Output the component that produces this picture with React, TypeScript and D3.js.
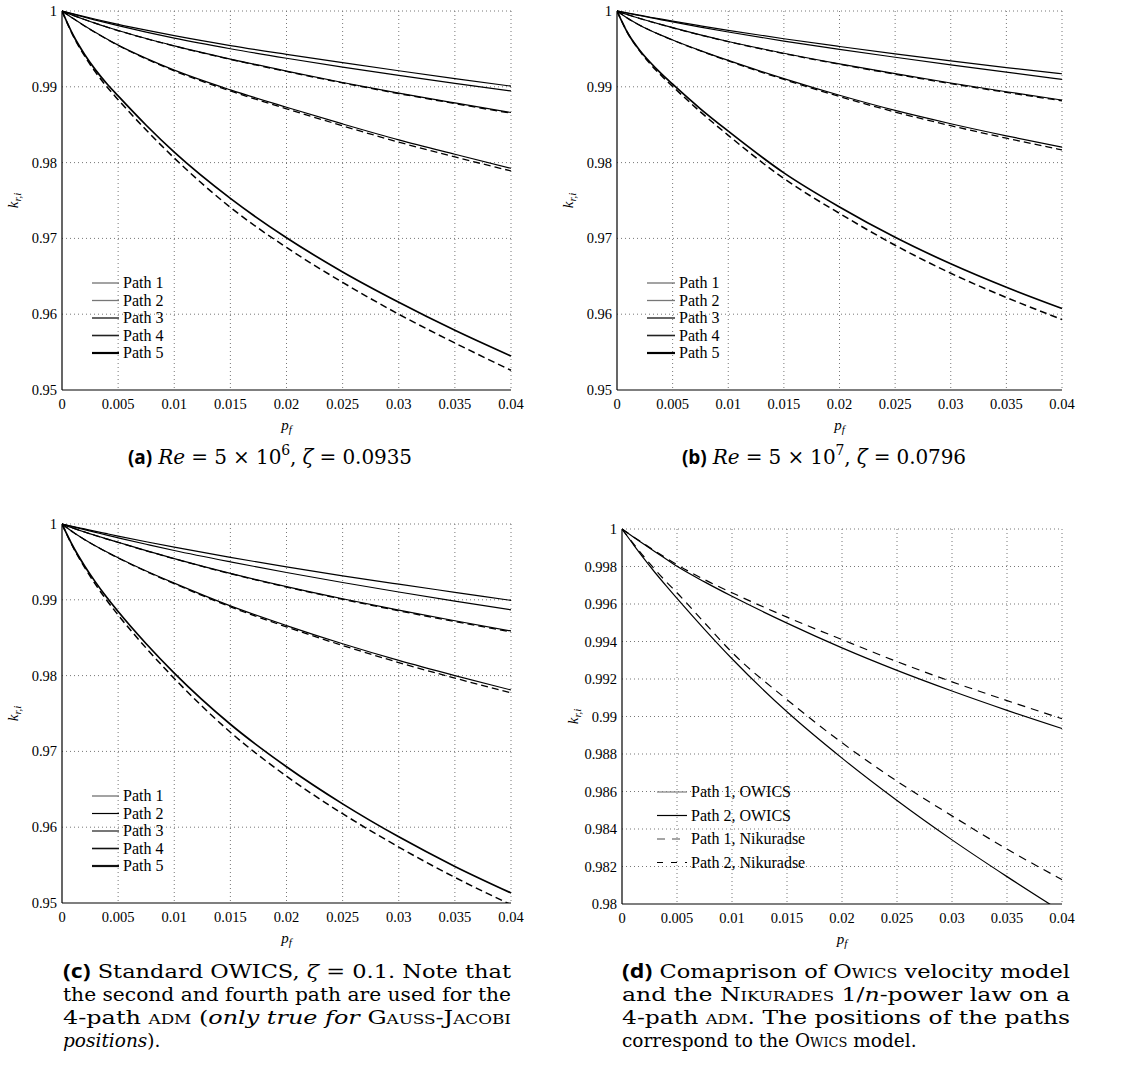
import React from 'react';
import * as d3 from 'd3';

// p_f sample positions
const pf = [0, 0.001, 0.002, 0.003, 0.004, 0.005, 0.0075, 0.01, 0.015, 0.02, 0.025, 0.03, 0.035, 0.04];

// (a) Re = 5e6, zeta = 0.0935
const aPath1 = [1, 0.99962, 0.99926, 0.99891, 0.99857, 0.99824, 0.99747, 0.99674, 0.99544, 0.99429, 0.99319, 0.99212, 0.99109, 0.99009];
const aPath2 = [1, 0.99958, 0.99918, 0.9988, 0.99843, 0.99807, 0.99722, 0.99642, 0.99502, 0.99377, 0.9926, 0.9915, 0.99045, 0.98945];
const aPath3 = [1, 0.99942, 0.99888, 0.99837, 0.99789, 0.99743, 0.99637, 0.9954, 0.99366, 0.99207, 0.99057, 0.98917, 0.98787, 0.98661];
const aPath3Dash = [1, 0.99942, 0.99888, 0.99837, 0.99788, 0.99742, 0.99635, 0.99537, 0.99362, 0.99202, 0.99051, 0.9891, 0.98779, 0.98651];
const aPath4 = [1, 0.999, 0.99805, 0.99715, 0.9963, 0.9955, 0.99375, 0.9922, 0.9896, 0.9873, 0.9851, 0.983, 0.9811, 0.97925];
const aPath4Dash = [1, 0.999, 0.99803, 0.99712, 0.99626, 0.99545, 0.99368, 0.9921, 0.98945, 0.9871, 0.98485, 0.9827, 0.98075, 0.9789];
const aPath5 = [1, 0.9968, 0.9943, 0.9922, 0.9904, 0.9888, 0.98493, 0.98138, 0.97528, 0.97008, 0.96558, 0.96158, 0.95788, 0.95448];
const aPath5Dash = [1, 0.9967, 0.9941, 0.9919, 0.99, 0.9883, 0.9843, 0.9806, 0.9741, 0.9688, 0.9642, 0.96, 0.9562, 0.9526];

// (b) Re = 5e7, zeta = 0.0796
const bPath1 = [1, 0.99972, 0.99945, 0.99918, 0.99892, 0.99866, 0.99804, 0.99744, 0.99634, 0.99532, 0.99434, 0.99342, 0.99254, 0.99172];
const bPath2 = [1, 0.9997, 0.99941, 0.99912, 0.99884, 0.99856, 0.99788, 0.99723, 0.99603, 0.99493, 0.9939, 0.9929, 0.99193, 0.99098];
const bPath3 = [1, 0.9995, 0.99904, 0.99861, 0.9982, 0.9978, 0.99685, 0.99598, 0.99443, 0.99303, 0.99173, 0.9905, 0.98935, 0.98825];
const bPath3Dash = [1, 0.9995, 0.99904, 0.99861, 0.99819, 0.99779, 0.99683, 0.99595, 0.99438, 0.99297, 0.99166, 0.99042, 0.98926, 0.98815];
const bPath4 = [1, 0.999, 0.99815, 0.99743, 0.99678, 0.99618, 0.99478, 0.99348, 0.99108, 0.98888, 0.98688, 0.98513, 0.98353, 0.98203];
const bPath4Dash = [1, 0.999, 0.99815, 0.99743, 0.99677, 0.99616, 0.99474, 0.99342, 0.99097, 0.98872, 0.98667, 0.98487, 0.98322, 0.98167];
const bPath5 = [1, 0.997, 0.9949, 0.9932, 0.9917, 0.99035, 0.9871, 0.98415, 0.97865, 0.97415, 0.97015, 0.96665, 0.96355, 0.96075];
const bPath5Dash = [1, 0.997, 0.9948, 0.993, 0.99145, 0.99005, 0.9867, 0.9836, 0.9779, 0.9733, 0.9691, 0.9654, 0.9622, 0.9593];

// (c) standard OWICS, zeta = 0.1
const cPath1 = [1, 0.99967, 0.99935, 0.99903, 0.99872, 0.99841, 0.99766, 0.99694, 0.99559, 0.99434, 0.99316, 0.99206, 0.99099, 0.98992];
const cPath2 = [1, 0.99962, 0.99925, 0.99889, 0.99853, 0.99818, 0.99733, 0.9965, 0.995, 0.9936, 0.99228, 0.99103, 0.98983, 0.98868];
const cPath3 = [1, 0.99945, 0.99895, 0.99848, 0.99803, 0.99759, 0.99649, 0.99544, 0.99349, 0.99174, 0.99014, 0.98864, 0.98724, 0.98589];
const cPath3Dash = [1, 0.99945, 0.99895, 0.99848, 0.99802, 0.99758, 0.99647, 0.99541, 0.99345, 0.99168, 0.99007, 0.98855, 0.98713, 0.98576];
const cPath4 = [1, 0.9989, 0.99795, 0.9971, 0.9963, 0.99555, 0.9938, 0.9922, 0.9892, 0.9866, 0.9842, 0.982, 0.98, 0.9781];
const cPath4Dash = [1, 0.9989, 0.99794, 0.99708, 0.99627, 0.99551, 0.99374, 0.99212, 0.98907, 0.98642, 0.98397, 0.98172, 0.97967, 0.97772];
const cPath5 = [1, 0.997, 0.9945, 0.9923, 0.9903, 0.98845, 0.9842, 0.98033, 0.97358, 0.96798, 0.96308, 0.95873, 0.95483, 0.95133];
const cPath5Dash = [1, 0.9969, 0.9943, 0.992, 0.9899, 0.988, 0.98363, 0.97963, 0.97253, 0.96673, 0.96178, 0.95738, 0.95338, 0.94978];

// (d) OWICS vs Nikuradse, 4-path
const dPath1Owics = [1, 0.99959, 0.99919, 0.99879, 0.9984, 0.99801, 0.99718, 0.99641, 0.99498, 0.99366, 0.99246, 0.99136, 0.99033, 0.98936];
const dPath2Owics = [1, 0.9992, 0.99842, 0.99768, 0.99698, 0.9963, 0.99465, 0.99308, 0.99025, 0.98778, 0.98552, 0.98342, 0.98146, 0.97958];
const dPath1Nik = [1, 0.9996, 0.99921, 0.99883, 0.99846, 0.9981, 0.9973, 0.9966, 0.9953, 0.9941, 0.99293, 0.99185, 0.99085, 0.98988];
const dPath2Nik = [1, 0.99925, 0.99852, 0.99784, 0.9972, 0.9966, 0.995, 0.99342, 0.9909, 0.9886, 0.98655, 0.9847, 0.98293, 0.9813];

const xTicks = [0, 0.005, 0.01, 0.015, 0.02, 0.025, 0.03, 0.035, 0.04];
const xTickLabels = ['0', '0.005', '0.01', '0.015', '0.02', '0.025', '0.03', '0.035', '0.04'];
const yTicksABC = [0.95, 0.96, 0.97, 0.98, 0.99, 1];
const yTickLabelsABC = ['0.95', '0.96', '0.97', '0.98', '0.99', '1'];
const yTicksD = [0.98, 0.982, 0.984, 0.986, 0.988, 0.99, 0.992, 0.994, 0.996, 0.998, 1];
const yTickLabelsD = ['0.98', '0.982', '0.984', '0.986', '0.988', '0.99', '0.992', '0.994', '0.996', '0.998', '1'];
const pathNames = ['Path 1', 'Path 2', 'Path 3', 'Path 4', 'Path 5'];
const compareNames = ['Path 1, OWICS', 'Path 2, OWICS', 'Path 1, Nikuradse', 'Path 2, Nikuradse'];

const SERIF = '"Liberation Serif", serif';
const CAPTION = '"DejaVu Serif", serif';
const SANS = '"Open Sans", "DejaVu Sans", sans-serif';

type Series = { values: number[]; dash?: string; width?: number; color?: string };
type LegendItem = { label: string; color: string; width: number; dash?: string };

const solid = (values: number[], width = 1.2): Series => ({ values, width });
const dashed = (values: number[], width = 1.3): Series => ({ values, width, dash: '7,4' });

function Panel(props: {
  id: string;
  box: { left: number; right: number; top: number; bottom: number };
  yDomain: [number, number];
  yTicks: number[];
  yLabels: string[];
  series: Series[];
  legend: LegendItem[];
  legendPos: { x: number; y: number; step: number; len: number };
}) {
  const { id, box, yDomain, yTicks, yLabels, series, legend, legendPos } = props;
  const x = d3.scaleLinear().domain([0, 0.04]).range([box.left, box.right]);
  const y = d3.scaleLinear().domain(yDomain).range([box.bottom, box.top]);
  const line = d3
    .line<number>()
    .x((_, i) => x(pf[i]))
    .y((d) => y(d))
    .curve(d3.curveMonotoneX);
  const midX = (box.left + box.right) / 2;
  const midY = (box.top + box.bottom) / 2;

  return (
    <g>
      <defs>
        <clipPath id={`clip-${id}`}>
          <rect x={box.left} y={box.top - 2} width={box.right - box.left + 2} height={box.bottom - box.top + 2} />
        </clipPath>
      </defs>
      {/* dotted grid */}
      {xTicks.slice(1).map((t) => (
        <line key={`gx${t}`} x1={x(t)} x2={x(t)} y1={box.top} y2={box.bottom} stroke="#777" strokeWidth={1} strokeDasharray="1,3" />
      ))}
      {yTicks.slice(1).map((t) => (
        <line key={`gy${t}`} x1={box.left} x2={box.right} y1={y(t)} y2={y(t)} stroke="#777" strokeWidth={1} strokeDasharray="1,3" />
      ))}
      {/* axes */}
      <line x1={box.left} x2={box.left} y1={box.top} y2={box.bottom} stroke="#000" strokeWidth={1.2} />
      <line x1={box.left} x2={box.right} y1={box.bottom} y2={box.bottom} stroke="#000" strokeWidth={1.2} />
      {xTicks.map((t, i) => (
        <text key={`tx${t}`} x={x(t)} y={box.bottom + 19} textAnchor="middle" fontFamily={SERIF} fontSize={14.5}>
          {xTickLabels[i]}
        </text>
      ))}
      {yTicks.map((t, i) => (
        <text key={`ty${t}`} x={box.left - 5} y={y(t) + 5} textAnchor="end" fontFamily={SERIF} fontSize={14.5}>
          {yLabels[i]}
        </text>
      ))}
      {/* axis labels */}
      <text x={midX} y={box.bottom + 40} textAnchor="middle" fontFamily={SERIF} fontSize={15} fontStyle="italic">
        p<tspan dy={3} fontSize={11}>f</tspan>
      </text>
      <text
        transform={`translate(${box.left - 44},${midY}) rotate(-90)`}
        textAnchor="middle"
        fontFamily={SERIF}
        fontSize={15}
        fontStyle="italic"
      >
        k<tspan dy={3} fontSize={11}>r,i</tspan>
      </text>
      {/* curves */}
      <g clipPath={`url(#clip-${id})`}>
        {series.map((s, i) => (
          <path
            key={i}
            d={line(s.values) || ''}
            fill="none"
            stroke={s.color || '#000'}
            strokeWidth={s.width || 1.2}
            strokeDasharray={s.dash}
          />
        ))}
      </g>
      {/* legend */}
      {legend.map((l, i) => {
        const ly = legendPos.y + i * legendPos.step;
        return (
          <g key={l.label}>
            <line
              x1={legendPos.x}
              x2={legendPos.x + legendPos.len}
              y1={ly}
              y2={ly}
              stroke={l.color}
              strokeWidth={l.width}
              strokeDasharray={l.dash}
            />
            <text x={legendPos.x + legendPos.len + 4} y={ly + 5} fontFamily={SERIF} fontSize={16}>
              {l.label}
            </text>
          </g>
        );
      })}
    </g>
  );
}

const legendAB: LegendItem[] = [
  { label: pathNames[0], color: '#666', width: 1.2 },
  { label: pathNames[1], color: '#777', width: 1.3 },
  { label: pathNames[2], color: '#000', width: 1.2 },
  { label: pathNames[3], color: '#222', width: 1.6 },
  { label: pathNames[4], color: '#000', width: 2.2 },
];
const legendC: LegendItem[] = [
  { label: pathNames[0], color: '#666', width: 1.2 },
  { label: pathNames[1], color: '#000', width: 1.2 },
  { label: pathNames[2], color: '#777', width: 2 },
  { label: pathNames[3], color: '#111', width: 1.6 },
  { label: pathNames[4], color: '#111', width: 2.2 },
];
const legendD: LegendItem[] = [
  { label: compareNames[0], color: '#888', width: 1.3 },
  { label: compareNames[1], color: '#000', width: 1.2 },
  { label: compareNames[2], color: '#888', width: 1.5, dash: '8,7' },
  { label: compareNames[3], color: '#000', width: 1.2, dash: '6,8' },
];

const capStyle = { fontFamily: CAPTION, fontSize: 18.5 };
const Bold = ({ children }: { children: React.ReactNode }) => (
  <tspan fontFamily={SANS} fontWeight="bold" fontSize={19}>{children}</tspan>
);
const SC = ({ children }: { children: React.ReactNode }) => (
  <tspan style={{ fontVariant: 'small-caps' }}>{children}</tspan>
);

export default function App() {
  return (
    <svg width={1125} height={1072} style={{ position: 'absolute', left: 0, top: 0, background: '#fff' }}>
      <rect width={1125} height={1072} fill="#fff" />
      <Panel
        id="a"
        box={{ left: 62, right: 511, top: 11, bottom: 390 }}
        yDomain={[0.95, 1]}
        yTicks={yTicksABC}
        yLabels={yTickLabelsABC}
        series={[
          solid(aPath1), solid(aPath2), dashed(aPath3Dash), solid(aPath3),
          dashed(aPath4Dash), solid(aPath4), dashed(aPath5Dash, 1.5), solid(aPath5, 1.7),
        ]}
        legend={legendAB}
        legendPos={{ x: 92, y: 283, step: 17.5, len: 27 }}
      />
      <Panel
        id="b"
        box={{ left: 617, right: 1062, top: 11, bottom: 390 }}
        yDomain={[0.95, 1]}
        yTicks={yTicksABC}
        yLabels={yTickLabelsABC}
        series={[
          solid(bPath1), solid(bPath2), dashed(bPath3Dash), solid(bPath3),
          dashed(bPath4Dash), solid(bPath4), dashed(bPath5Dash, 1.5), solid(bPath5, 1.7),
        ]}
        legend={legendAB}
        legendPos={{ x: 647, y: 283, step: 17.5, len: 28 }}
      />
      <Panel
        id="c"
        box={{ left: 62, right: 511, top: 524, bottom: 903 }}
        yDomain={[0.95, 1]}
        yTicks={yTicksABC}
        yLabels={yTickLabelsABC}
        series={[
          solid(cPath1), solid(cPath2), dashed(cPath3Dash), solid(cPath3),
          dashed(cPath4Dash), solid(cPath4), dashed(cPath5Dash, 1.5), solid(cPath5, 1.7),
        ]}
        legend={legendC}
        legendPos={{ x: 92, y: 796, step: 17.5, len: 27 }}
      />
      <Panel
        id="d"
        box={{ left: 622, right: 1062, top: 529, bottom: 904 }}
        yDomain={[0.98, 1]}
        yTicks={yTicksD}
        yLabels={yTickLabelsD}
        series={[
          solid(dPath1Owics), solid(dPath2Owics),
          { values: dPath1Nik, width: 1.2, dash: '8,6' },
          { values: dPath2Nik, width: 1.2, dash: '8,6' },
        ]}
        legend={legendD}
        legendPos={{ x: 657, y: 792, step: 23.5, len: 30 }}
      />

      {/* captions */}
      <text x={128} y={464} textLength={284} lengthAdjust="spacing" {...capStyle} fontSize={20}>
        <Bold>(a)</Bold> <tspan fontStyle="italic">Re</tspan> = 5 × 10<tspan dy={-9} fontSize={14}>6</tspan>
        <tspan dy={9}>, </tspan><tspan fontStyle="italic">ζ</tspan> = 0.0935
      </text>
      <text x={682} y={464} textLength={284} lengthAdjust="spacing" {...capStyle} fontSize={20}>
        <Bold>(b)</Bold> <tspan fontStyle="italic">Re</tspan> = 5 × 10<tspan dy={-9} fontSize={14}>7</tspan>
        <tspan dy={9}>, </tspan><tspan fontStyle="italic">ζ</tspan> = 0.0796
      </text>

      <text x={63} y={978} textLength={448} lengthAdjust="spacingAndGlyphs" {...capStyle}>
        <Bold>(c)</Bold> Standard OWICS, <tspan fontStyle="italic">ζ</tspan> = 0.1.  Note that
      </text>
      <text x={63} y={1001} textLength={448} lengthAdjust="spacingAndGlyphs" {...capStyle}>
        the second and fourth path are used for the
      </text>
      <text x={63} y={1024} textLength={448} lengthAdjust="spacingAndGlyphs" {...capStyle}>
        4-path <SC>adm</SC> (<tspan fontStyle="italic">only true for</tspan> <SC>Gauss-Jacobi</SC>
      </text>
      <text x={63} y={1047} {...capStyle}>
        <tspan fontStyle="italic">positions</tspan>).
      </text>

      <text x={622} y={978} textLength={448} lengthAdjust="spacingAndGlyphs" {...capStyle}>
        <Bold>(d)</Bold> Comaprison of <SC>Owics</SC> velocity model
      </text>
      <text x={622} y={1001} textLength={448} lengthAdjust="spacingAndGlyphs" {...capStyle}>
        and the <SC>Nikurades</SC> 1/<tspan fontStyle="italic">n</tspan>-power law on a
      </text>
      <text x={622} y={1024} textLength={448} lengthAdjust="spacingAndGlyphs" {...capStyle}>
        4-path <SC>adm</SC>.  The positions of the paths
      </text>
      <text x={622} y={1047} {...capStyle}>
        correspond to the <SC>Owics</SC> model.
      </text>
    </svg>
  );
}
